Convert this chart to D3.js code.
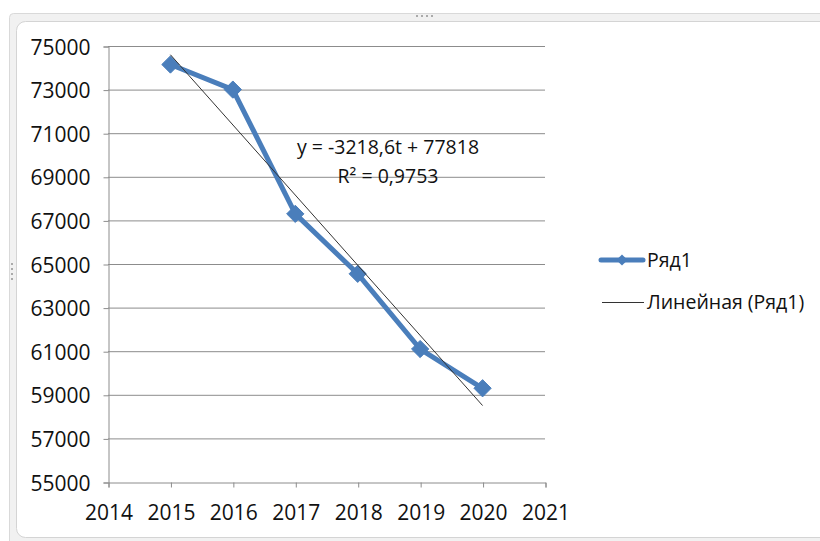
<!DOCTYPE html>
<html>
<head>
<meta charset="utf-8">
<script src="https://cdn.jsdelivr.net/npm/d3@7"></script>
<style>
  body { margin:0; background:#fff; }
  text { font-family:"Open Sans", "Liberation Sans", sans-serif; fill:#111; }
</style>
</head>
<body>
<svg id="chart" width="820" height="541"></svg>
<script>
// data
var years  = [2015, 2016, 2017, 2018, 2019, 2020];
var values = [74150, 73000, 67300, 64550, 61100, 59300];
var yTicks = [55000, 57000, 59000, 61000, 63000, 65000, 67000, 69000, 71000, 73000, 75000];
var xTicks = [2014, 2015, 2016, 2017, 2018, 2019, 2020, 2021];
var trendSlope = -3218.6, trendIntercept = 77818;   // y = a*t + b, t = 1..6
var eqLabels = ["y = -3218,6t + 77818", "R² = 0,9753"];
var legendNames = ["Ряд1", "Линейная (Ряд1)"];

var svg = d3.select("#chart");
var blue = "#4A7EBB";

// frame (excel chart area)
svg.append("rect").attr("x",9.5).attr("y",13.5).attr("width",830).attr("height",540)
   .attr("rx",4).attr("fill","#f1f1f1").attr("stroke","#d9d9d9");
svg.append("rect").attr("x",16.5).attr("y",21.5).attr("width",830).attr("height",516)
   .attr("rx",9).attr("fill","#fff").attr("stroke","#d4d4d4");
// grip dots
[0,1,2,3].forEach(function(i){
  svg.append("rect").attr("x",416+i*5).attr("y",15).attr("width",2).attr("height",2).attr("fill","#aaa");
  svg.append("rect").attr("x",11).attr("y",263+i*5).attr("width",2).attr("height",2).attr("fill","#aaa");
});

var x = d3.scaleLinear().domain([2014, 2021]).range([108, 545]);
var y = d3.scaleLinear().domain([55000, 75000]).range([482, 46]);

// gridlines
svg.append("g").selectAll("line").data(yTicks.slice(1)).enter().append("line")
   .attr("x1",x(2014)).attr("x2",x(2021))
   .attr("y1",function(d){return y(d)+0.5;}).attr("y2",function(d){return y(d)+0.5;})
   .attr("stroke","#8c8c8c").attr("stroke-width",1);

// axes
var yAxis = svg.append("g").attr("transform","translate("+(x(2014)+0.5)+",0.5)")
   .call(d3.axisLeft(y).tickValues(yTicks).tickSize(5).tickPadding(13).tickFormat(d3.format("d")));
var xAxis = svg.append("g").attr("transform","translate(0.5,"+(y(55000)+0.5)+")")
   .call(d3.axisBottom(x).tickValues(xTicks).tickSize(5).tickPadding(18).tickFormat(d3.format("d")));
[yAxis, xAxis].forEach(function(a){
  a.select(".domain").attr("stroke","#8c8c8c");
  a.selectAll(".tick line").attr("stroke","#8c8c8c");
  a.selectAll("text").attr("font-size",21).attr("fill","#111")
   .attr("font-family","'Open Sans', sans-serif");
});
yAxis.selectAll("text").attr("dy","0.36em");

// series line
var line = d3.line().x(function(d,i){return x(years[i]);}).y(function(d){return y(d);});
svg.append("path").datum(values).attr("d",line).attr("fill","none")
   .attr("stroke",blue).attr("stroke-width",5).attr("stroke-linejoin","round");

var diamond = d3.symbol().type(d3.symbolDiamond2).size(190);
svg.append("g").selectAll("path").data(values).enter().append("path")
   .attr("d",diamond)
   .attr("transform",function(d,i){return "translate("+x(years[i])+","+y(d)+")";})
   .attr("fill",blue).attr("stroke",blue).attr("stroke-width",1);

// trend line
var t0 = 1, t1 = years.length;
svg.append("line")
   .attr("x1",x(years[0])).attr("y1",y(trendSlope*t0+trendIntercept))
   .attr("x2",x(years[years.length-1])).attr("y2",y(trendSlope*t1+trendIntercept))
   .attr("stroke","#333").attr("stroke-width",1);

// equation
svg.append("text").attr("x",388).attr("y",154).attr("text-anchor","middle")
   .attr("font-size",19.5).text(eqLabels[0]);
svg.append("text").attr("x",388).attr("y",183).attr("text-anchor","middle")
   .attr("font-size",19.5).text(eqLabels[1]);

// legend
var lg = svg.append("g");
lg.append("line").attr("x1",601).attr("x2",643).attr("y1",260).attr("y2",260)
  .attr("stroke",blue).attr("stroke-width",5).attr("stroke-linecap","round");
lg.append("path").attr("d",d3.symbol().type(d3.symbolDiamond2).size(80))
  .attr("transform","translate(622,260)").attr("fill",blue);
lg.append("text").attr("x",647).attr("y",260).attr("dy","0.35em").attr("font-size",19.5).text(legendNames[0]);
lg.append("line").attr("x1",602).attr("x2",644).attr("y1",302.5).attr("y2",302.5)
  .attr("stroke","#333").attr("stroke-width",1);
lg.append("text").attr("x",647).attr("y",302).attr("dy","0.35em").attr("font-size",19.5).text(legendNames[1]);
</script>
</body>
</html>
